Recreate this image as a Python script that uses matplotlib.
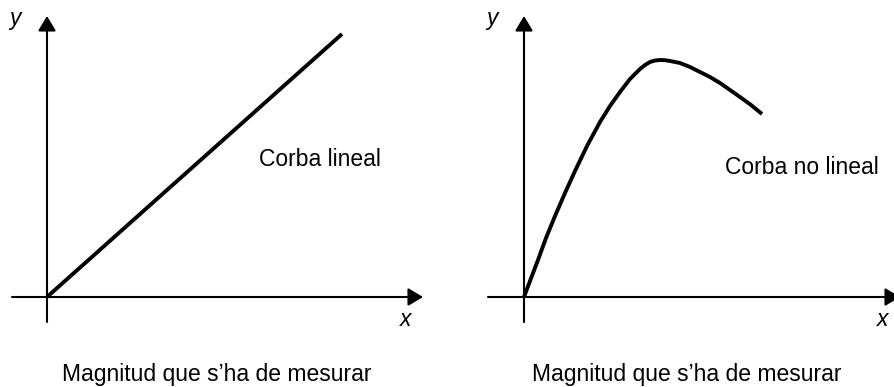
import matplotlib
matplotlib.use('Agg')
import matplotlib.pyplot as plt

plt.rcParams['font.family'] = ['Liberation Sans', 'DejaVu Sans']

# dades (unitats: pixels respecte de l'origen)
lineal_x = [0, 295]
lineal_y = [0, 263]

nolineal_x = [0, 6, 14, 22, 31, 41, 51, 63, 76, 86, 96, 106, 116, 121, 126,
              131, 136, 141, 146, 156, 166, 176, 186, 196, 206, 216, 227, 238]
nolineal_y = [0, 16, 37, 59, 81, 104, 126, 151, 175, 191, 205, 218, 228, 232, 235,
              236.5, 237, 236.8, 236, 234, 230, 225, 220, 214, 207, 200, 192, 183]

titol_esq = 'Corba lineal'
titol_dre = 'Corba no lineal'
eix_x = "Magnitud que s\u2019ha de mesurar"

fig = plt.figure(figsize=(8.94, 3.87), dpi=100)
ax1 = fig.add_axes([0, 0, 0.5, 1])
ax2 = fig.add_axes([0.5, 0, 0.5, 1])
ax1.set_xlim(-47, 400)
ax2.set_xlim(-77, 370)

fs = 16.5
arrow = dict(arrowstyle='-|>,head_length=0.6,head_width=0.36', lw=1.5,
             color='black', mutation_scale=15, shrinkA=0, shrinkB=0)

def eixos(ax, xmin, xmax):
    ax.set_ylim(-90, 297)
    ax.axis('off')
    ax.annotate('', xy=(xmax, 0), xytext=(xmin, 0), arrowprops=arrow,
                annotation_clip=False)
    ax.annotate('', xy=(0, 281), xytext=(0, -25), arrowprops=arrow,
                annotation_clip=False)

eixos(ax1, -35, 376)
eixos(ax2, -36, 376)

ax1.plot(lineal_x, lineal_y, color='black', lw=2.8, solid_capstyle='butt')
ax2.plot(nolineal_x, nolineal_y, color='black', lw=2.8, solid_capstyle='butt',
         solid_joinstyle='round')

ax1.text(273, 137, titol_esq, fontsize=fs, ha='center', va='center')
ax2.text(278, 129, titol_dre, fontsize=fs, ha='center', va='center')

for ax, cx in [(ax1, 170), (ax2, 163)]:
    ax.text(cx, -84, eix_x, fontsize=fs, ha='center', va='baseline')
    ax.text(-32, 278, 'y', fontsize=fs, style='italic', ha='center', va='center')
    ax.text(359, -22, 'x', fontsize=fs, style='italic', ha='center', va='center')

fig.savefig('out.png', dpi=100)
